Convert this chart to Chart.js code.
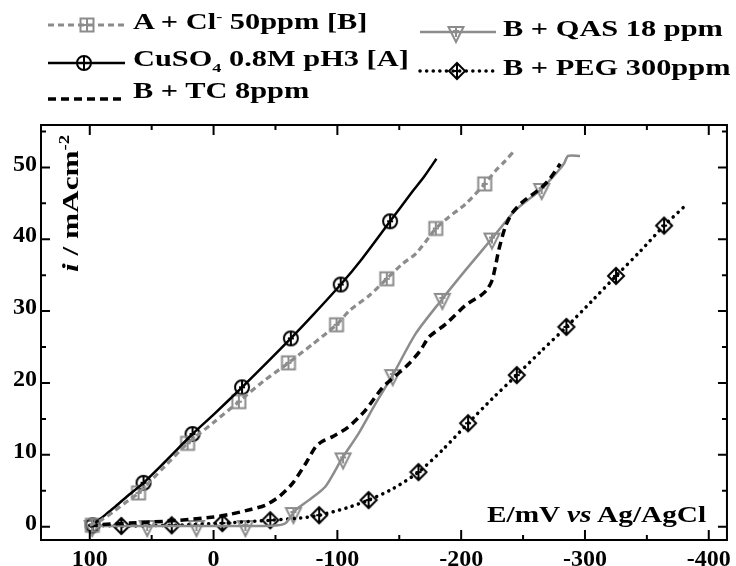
<!DOCTYPE html>
<html lang="en">
<head>
<meta charset="UTF-8">
<title>Polarization curves</title>
<script src="https://cdn.jsdelivr.net/npm/chart.js"></script>
<style>
  body { margin: 0; background: #fff; }
  #wrap { position: relative; width: 736px; height: 566px; }
  .txt { position: absolute; font-family: "Liberation Serif", "Times New Roman", serif; font-weight: bold;
         color: #000; line-height: 1; white-space: nowrap; transform-origin: 0 0; }
  .txt sup, .txt sub { line-height: 0; font-size: 0.6em; }
  .lg { font-size: 22.5px; transform: scaleX(1.35); }
</style>
</head>
<body>
<div id="wrap">
  <canvas id="chart" width="736" height="566"></canvas>

  <!-- legend text -->
  <div class="txt lg" style="left:133px;top:11px">A + Cl<sup>-</sup> 50ppm [B]</div>
  <div class="txt lg" style="left:133px;top:48px">CuSO<sub>4</sub> 0.8M pH3 [A]</div>
  <div class="txt lg" style="left:133px;top:80px">B + TC 8ppm</div>
  <div class="txt lg" style="left:503px;top:18px">B + QAS 18 ppm</div>
  <div class="txt lg" style="left:503px;top:57px">B + PEG 300ppm</div>

  <!-- axis titles, drawn inside the plot like the original -->
  <div class="txt" style="left:58.7px;top:272px;font-size:23px;transform:rotate(-90deg) scaleX(1.36)"><i>i</i> / mAcm<sup>-2</sup></div>
  <div class="txt" style="left:487px;top:501.6px;font-size:24px;transform:scaleX(1.22)">E/mV <i>vs</i> Ag/AgCl</div>
</div>

<script>
// E (mV vs Ag/AgCl) and i (mA cm-2)
const cuE = [100, 95, 90, 85, 80, 70, 56.6, 40, 17, 0, -23, -40, -62.4, -80, -102.7, -120, -142.6, -160, -170, -180];
const cuI = [0.1, 0.6, 1.3, 2.0, 2.7, 4.2, 6.1, 8.9, 12.9, 15.6, 19.4, 22.3, 26.2, 29.4, 33.7, 37.3, 42.5, 46.5, 48.7, 51.2];
const cuMarkE = [97.7, 56.6, 17, -23, -62.4, -102.7, -142.6];
const cuMarkI = [0.2, 6.1, 12.9, 19.4, 26.2, 33.7, 42.5];

const clE = [100, 90, 80, 70, 60.6, 40, 21, 0, -20.4, -40, -60.5, -80, -99.3, -110, -126, -139.9, -152.7, -163.4, -174.1, -179.5, -190.1, -203.5, -219, -227.6, -235.6, -242.8];
const clI = [0.2, 1.0, 2.2, 3.5, 4.7, 8.3, 11.6, 14.5, 17.4, 20.2, 22.8, 25.4, 28.1, 30.1, 32.2, 34.5, 36.6, 38.0, 40.3, 41.5, 43.1, 44.9, 47.7, 49.5, 50.9, 52.3];
const clMarkE = [98, 60.6, 21, -20.4, -60.5, -99.3, -139.9, -179.5, -219];
const clMarkI = [0.2, 4.7, 11.6, 17.4, 22.8, 28.1, 34.5, 41.5, 47.7];

const tcE = [100, 90, 67.8, 40, 27.6, 0, -12.6, -30, -42, -53, -63.6, -74.4, -82.4, -88, -95.8, -109, -122.6, -136.6, -147, -158, -167, -174, -187.5, -203.5, -216, -221, -225, -228, -230.2, -235.6, -241, -249, -265, -272, -280];
const tcI = [0.1, 0.3, 0.5, 0.75, 0.9, 1.35, 1.7, 2.4, 3.0, 4.2, 6.0, 8.8, 11.1, 11.9, 12.5, 13.9, 16.2, 19.4, 21.0, 22.7, 24.5, 26.4, 28.2, 30.8, 32.2, 33.0, 34.3, 36.5, 38.4, 41.7, 43.6, 45.1, 47.2, 48.5, 50.5];

const qasE = [100, 80, 60, 40, 20, 0, -20, -40, -52, -58.2, -66.3, -77, -90.4, -103.8, -117.2, -130.7, -144.7, -163.4, -184.8, -203.5, -224.9, -243.6, -265, -278.3, -283, -286.4, -296];
const qasI = [0.1, 0.1, 0.1, 0.1, 0.1, 0.1, 0.1, 0.1, 0.2, 0.5, 2.3, 3.7, 5.6, 9.5, 13.0, 17.1, 21.1, 26.9, 31.7, 35.7, 40.1, 44.0, 47.0, 49.5, 50.5, 51.6, 51.6];
const qasMarkE = [98, 53.6, 13.8, -25.7, -64.5, -104.6, -144.7, -184.8, -224.9, -265];
const qasMarkI = [0.1, 0.1, 0.1, 0.1, 1.9, 9.5, 21.1, 31.7, 40.1, 47.0];

const pegE = [100, 74.5, 33.8, -7.1, -45.8, -70, -85.3, -107.3, -125.2, -145, -165.5, -185, -205.6, -225, -244.9, -265, -285, -305, -325.1, -345, -363.9, -381.2];
const pegI = [0.2, 0.1, 0.2, 0.5, 0.9, 1.2, 1.6, 2.6, 3.7, 5.3, 7.6, 10.7, 14.4, 17.8, 21.1, 24.5, 27.8, 31.3, 34.9, 38.4, 41.9, 44.7];
const pegMarkE = [74.5, 33.8, -7.1, -45.8, -85.3, -125.2, -165.5, -205.6, -244.9, -285, -325.1, -363.9];
const pegMarkI = [0.1, 0.2, 0.5, 0.9, 1.6, 3.7, 7.6, 14.4, 21.1, 27.8, 34.9, 41.9];

// axis ticks
const xTicks = [100, 0, -100, -200, -300, -400];
const xMinor = [50, -50, -150, -250, -350];
const yTicks = [0, 10, 20, 30, 40, 50];
const yMinor = [5, 15, 25, 35, 45, 55];

const GRAY = '#8c8c8c';

const pts = (xs, ys) => xs.map((x, k) => ({ x: x, y: ys[k] }));

// hollow marker glyphs with a cross inside
function makeMarker(kind, color) {
    const c = document.createElement('canvas');
    c.width = 20; c.height = 26;
    const g = c.getContext('2d');
    const cx = 10, cy = 13;
    g.strokeStyle = color;
    g.lineWidth = 2;
    g.beginPath();
    if (kind === 'circle') {
        g.arc(cx, cy, 7, 0, Math.PI * 2);
        g.moveTo(cx, cy - 7); g.lineTo(cx, cy + 7);
        g.moveTo(cx - 3, cy); g.lineTo(cx + 3, cy);
    } else if (kind === 'square') {
        g.rect(cx - 6.5, cy - 6.5, 13, 13);
        g.moveTo(cx, cy - 6.5); g.lineTo(cx, cy + 6.5);
        g.moveTo(cx - 3, cy); g.lineTo(cx + 3, cy);
    } else if (kind === 'tri') {
        g.moveTo(cx - 7.5, cy - 5); g.lineTo(cx + 7.5, cy - 5); g.lineTo(cx, cy + 10); g.closePath();
        g.moveTo(cx, cy - 5); g.lineTo(cx, cy + 5);
        g.moveTo(cx - 3, cy - 1); g.lineTo(cx + 3, cy - 1);
    } else if (kind === 'diamond') {
        g.moveTo(cx, cy - 8); g.lineTo(cx + 8, cy); g.lineTo(cx, cy + 8); g.lineTo(cx - 8, cy); g.closePath();
        g.moveTo(cx, cy - 8); g.lineTo(cx, cy + 8);
        g.moveTo(cx - 3, cy); g.lineTo(cx + 3, cy);
    }
    g.stroke();
    return c;
}

const mCircle = makeMarker('circle', '#000');
const mSquare = makeMarker('square', GRAY);
const mTri = makeMarker('tri', GRAY);
const mDiamond = makeMarker('diamond', '#000');

function lineSet(label, data, color, width, dash, cap) {
    return { label: label, data: data, showLine: true, borderColor: color, borderWidth: width,
             borderDash: dash, borderCapStyle: cap || 'butt', pointRadius: 0, tension: 0.25, fill: false };
}
function markSet(label, data, marker) {
    return { label: label, data: data, showLine: false, pointStyle: marker, pointRadius: 8 };
}

const datasets = [
    lineSet('A + Cl- 50ppm [B]', pts(clE, clI), GRAY, 3.2, [6, 4]),
    lineSet('CuSO4 0.8M pH3 [A]', pts(cuE, cuI), '#000', 2.5, []),
    lineSet('B + TC 8ppm', pts(tcE, tcI), '#000', 3.5, [8, 5]),
    lineSet('B + QAS 18 ppm', pts(qasE, qasI), GRAY, 2.5, []),
    lineSet('B + PEG 300ppm', pts(pegE, pegI), '#000', 3.5, [0.1, 6.5], 'round'),
    markSet('Cl markers', pts(clMarkE, clMarkI), mSquare),
    markSet('CuSO4 markers', pts(cuMarkE, cuMarkI), mCircle),
    markSet('QAS markers', pts(qasMarkE, qasMarkI), mTri),
    markSet('PEG markers', pts(pegMarkE, pegMarkI), mDiamond)
];

// legend samples: [line dataset, marker, x1, x2, y, marker x]
const legendRows = [
    [0, mSquare, 48, 125, 25, 87],
    [1, mCircle, 48, 125, 63, 84],
    [2, null, 48, 125, 99, 0],
    [3, mTri, 420, 496, 32, 456],
    [4, mDiamond, 420, 496, 71, 457]
];

const framePlugin = {
    id: 'frame',
    afterDraw(chart) {
        const ctx = chart.ctx;
        const a = chart.chartArea;
        const xs = chart.scales.x, ys = chart.scales.y;
        ctx.save();
        ctx.strokeStyle = '#000';
        ctx.lineWidth = 2;
        ctx.setLineDash([]);
        ctx.strokeRect(a.left, a.top, a.right - a.left, a.bottom - a.top);
        ctx.beginPath();
        const xt = (v, len) => {
            const p = xs.getPixelForValue(v);
            ctx.moveTo(p, a.bottom); ctx.lineTo(p, a.bottom - len);
            ctx.moveTo(p, a.top); ctx.lineTo(p, a.top + len);
        };
        const yt = (v, len) => {
            const p = ys.getPixelForValue(v);
            ctx.moveTo(a.left, p); ctx.lineTo(a.left + len, p);
            ctx.moveTo(a.right, p); ctx.lineTo(a.right - len, p);
        };
        xTicks.forEach(v => xt(v, 10));
        xMinor.forEach(v => xt(v, 5));
        yTicks.forEach(v => yt(v, 9));
        yMinor.forEach(v => yt(v, 5));
        ctx.stroke();

        // legend line samples
        legendRows.forEach(r => {
            const ds = chart.data.datasets[r[0]];
            ctx.beginPath();
            ctx.strokeStyle = ds.borderColor;
            ctx.lineWidth = ds.borderWidth;
            ctx.lineCap = ds.borderCapStyle;
            ctx.setLineDash(ds.borderDash);
            ctx.moveTo(r[2], r[4]);
            ctx.lineTo(r[3], r[4]);
            ctx.stroke();
            if (r[1]) ctx.drawImage(r[1], r[5] - r[1].width / 2, r[4] - r[1].height / 2);
        });
        ctx.restore();
    }
};

const tickFont = { family: "'Liberation Serif', serif", size: 24, weight: 'bold' };

new Chart(document.getElementById('chart'), {
    type: 'scatter',
    data: { datasets: datasets },
    options: {
        responsive: false,
        animation: false,
        layout: { padding: { top: 125, right: 6, left: 0, bottom: 0 } },
        plugins: { legend: { display: false }, tooltip: { enabled: false } },
        scales: {
            x: {
                type: 'linear', reverse: true, min: -414.7, max: 139.4,
                afterBuildTicks: s => { s.ticks = xTicks.map(v => ({ value: v })); },
                afterFit: s => { s.height = 26; },
                grid: { display: false, drawTicks: false },
                border: { display: false },
                ticks: { font: tickFont, color: '#000', padding: 5, maxRotation: 0 }
            },
            y: {
                type: 'linear', min: -1.85, max: 55.9,
                afterBuildTicks: s => { s.ticks = yTicks.map(v => ({ value: v })); },
                afterFit: s => { s.width = 41; },
                grid: { display: false, drawTicks: false },
                border: { display: false },
                ticks: { font: tickFont, color: '#000', padding: 4, labelOffset: -3 }
            }
        }
    },
    plugins: [framePlugin]
});
</script>
</body>
</html>
